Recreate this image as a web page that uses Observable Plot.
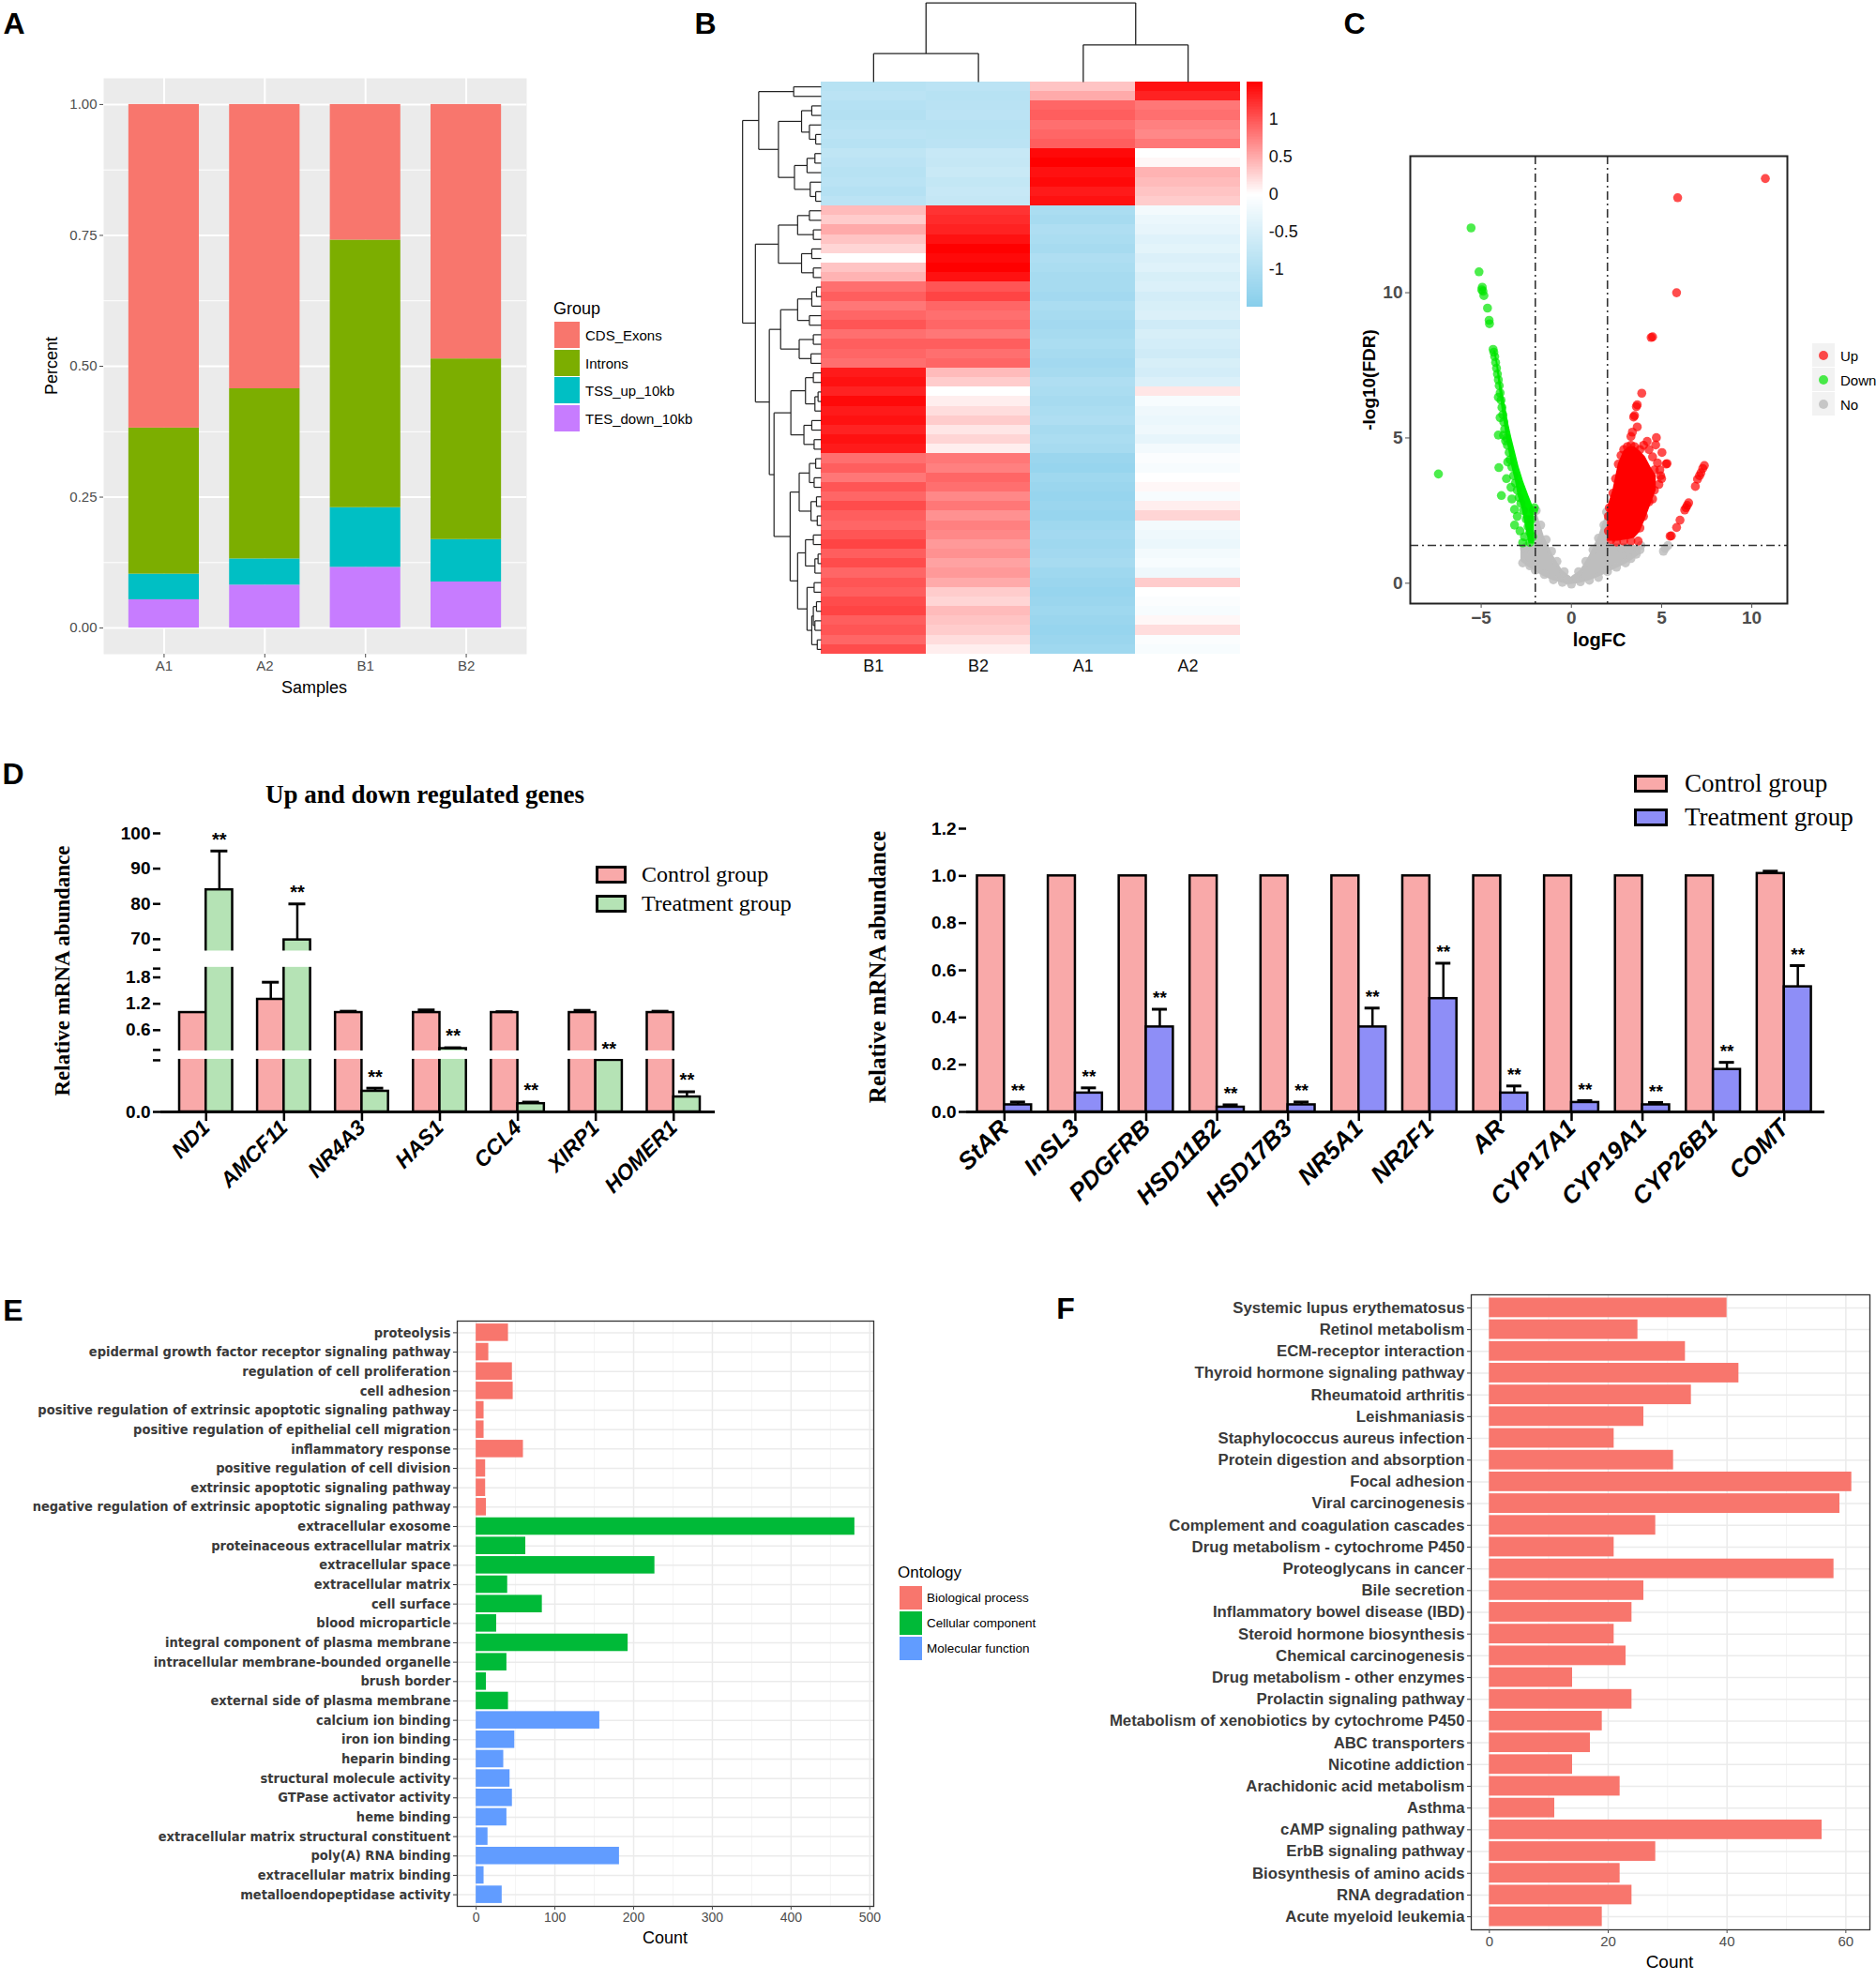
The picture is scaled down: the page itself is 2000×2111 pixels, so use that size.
<!DOCTYPE html>
<html>
<head>
<meta charset="utf-8">
<script src="https://cdn.jsdelivr.net/npm/d3@7"></script>
<script src="https://cdn.jsdelivr.net/npm/@observablehq/plot@0.6"></script>
<style>
html,body{margin:0;padding:0;background:#fff;}
#root{position:relative;width:2000px;height:2111px;overflow:hidden;background:#fff;}
#root svg{position:absolute;}
</style>
</head>
<body>
<div id="root"></div>
<script>
const SANS = '"Liberation Sans", Arial, Helvetica, sans-serif';
const NARROW = '"Liberation Sans Narrow", "Arial Narrow", "DejaVu Sans Condensed", "Liberation Sans", sans-serif';
const SERIF = '"Liberation Serif", "Times New Roman", Times, serif';

// ================= DATA =================
// Panel A
const samplesA = ["A1", "A2", "B1", "B2"];
const regionGroups = ["CDS_Exons", "Introns", "TSS_up_10kb", "TES_down_10kb"];
const cdsExons = [0.618, 0.543, 0.259, 0.486];
const introns = [0.279, 0.325, 0.511, 0.345];
const tssUp10kb = [0.049, 0.050, 0.114, 0.081];
const tesDown10kb = [0.054, 0.082, 0.116, 0.088];
const regionColors = ["#F8766D", "#7CAE00", "#00BFC4", "#C77CFF"];
const percentTicks = [0, 0.25, 0.5, 0.75, 1];
const percentMinor = [0.125, 0.375, 0.625, 0.875];

// Panel B (heatmap, 60 row bands, columns B1 B2 A1 A2)
const heatCols = ["B1", "B2", "A1", "A2"];
const heatB1 = [-0.9,-0.85,-0.92,-0.95,-0.9,-0.85,-0.9,-0.8,-0.85,-0.9,-0.86,-0.92,-0.85,
  0.4,0.3,0.5,0.35,0.25,0.0,0.35,0.45,
  0.85,0.95,0.8,0.9,1.0,0.85,0.95,0.9,0.85,
  1.35,1.4,1.3,1.45,1.35,1.4,1.3,1.4,1.35,
  0.85,0.95,0.8,1.0,0.9,1.05,0.95,0.9,1.0,1.1,0.95,1.05,0.9,1.0,0.95,1.05,1.1,0.95,1.0,0.9,1.05];
const heatB2 = [-0.85,-0.9,-0.88,-0.85,-0.9,-0.87,-0.85,
  -0.7,-0.72,-0.68,-0.75,-0.7,-0.72,
  1.2,1.25,1.3,1.4,1.5,1.45,1.5,1.4,
  1.0,1.1,0.9,0.85,0.9,0.8,0.95,0.85,0.9,
  0.4,0.3,
  0.0,0.1,0.2,0.3,0.15,0.25,0.1,
  0.8,0.75,0.9,0.85,0.7,0.8,0.65,0.75,0.7,0.6,0.65,0.55,0.6,0.5,
  0.3,0.25,0.4,0.35,0.3,0.2,0.1];
const heatA1 = [0.35,0.5,
  0.9,0.95,0.85,0.9,0.95,
  1.45,1.5,1.4,1.45,1.35,1.4,
  -1.05,-1.1,-1.0,-1.05,-1.1,-1.0,-1.05,-1.1,
  -1.1,-1.15,-1.05,-1.1,-1.15,-1.1,-1.05,-1.1,-1.15,
  -1.1,-1.0,-1.05,-1.1,-1.05,-1.0,-1.1,-1.05,-1.1,
  -1.25,-1.3,-1.2,-1.25,-1.3,-1.25,-1.3,-1.2,-1.15,-1.2,-1.15,-1.1,-1.2,-1.25,-1.3,-1.25,-1.2,-1.25,-1.3,-1.25,-1.2];
const heatA2 = [1.4,1.3,
  0.8,0.85,0.75,0.7,0.8,
  0.0,0.05,
  0.45,0.4,0.35,0.3,
  -0.15,-0.25,-0.3,-0.4,-0.35,-0.45,-0.4,-0.5,-0.45,-0.55,-0.5,-0.45,-0.6,-0.5,-0.55,-0.6,-0.5,-0.55,-0.45,
  0.15,-0.1,-0.2,-0.25,-0.2,-0.3,-0.15,-0.05,-0.1,0.0,0.05,-0.1,0.1,0.25,-0.15,-0.2,-0.25,-0.15,-0.1,-0.2,0.3,0.0,-0.05,-0.1,0.05,0.2,-0.05,-0.1];
const heatTicks = [1, 0.5, 0, -0.5, -1];
const colTree = [1.0, [0.36, 0, 1], [0.47, 2, 3]];
const rowTree = [1.0,
  [0.795,
    [0.35, 0, 1],
    [0.544,
      [0.25, [0.12, 2, 3], [0.15, 4, [0.07, 5, 6]]],
      [0.34, [0.18, [0.08, 7, 8], 9], [0.14, 10, [0.07, 11, 12]]]]],
  [0.837,
    [0.544, [0.3, [0.15, 13, 14], [0.1, 15, 16]], [0.25, [0.12, 17, 18], [0.1, 19, 20]]],
    [0.66,
      [0.516, [0.3, [0.12, [0.06, 21, 22], 23], [0.15, 24, 25]], [0.28, [0.1, 26, 27], [0.13, 28, 29]]],
      [0.6,
        [0.386, [0.2, [0.1, 30, 31], [0.08, [0.04, 32, 33], 34]], [0.22, [0.12, 35, 36], [0.09, 37, 38]]],
        [0.395,
          [0.28, [0.15, [0.07, 39, 40], [0.09, 41, 42]], [0.13, [0.06, 43, 44], [0.05, 45, 46]]],
          [0.3, [0.2, [0.1, 47, 48], [0.08, [0.04, 49, 50], 51]],
                [0.18, [0.09, 52, 53], [0.12, [0.1, [0.06, 54, 55], [0.08, 56, 57]], [0.05, 58, 59]]]]]]]]];

// Panel C (volcano)
const fcCut = [-2, 2];
const fdrCut = [1.3];
const upPoints = [[10.75,13.93],[5.89,13.27],[5.83,10.0],[4.42,8.46],[4.5,8.48],[3.9,6.54],[3.65,6.14],[3.6,6.08],[3.5,5.77],[3.45,5.72],[3.65,5.38],[3.38,5.2],[3.3,5.05],[4.71,5.01],[4.2,4.88],[4.67,4.76],[5.02,4.5],[5.25,4.1],[5.3,4.12],[4.77,4.14],[4.9,3.9],[5.0,3.6],[4.85,3.4],[4.6,3.2],[4.3,2.8],[4.0,2.3],[3.8,1.9],[3.7,1.45],[3.3,1.45],[2.9,1.45],[2.5,1.42],[2.2,1.5],[2.05,1.8],[2.05,2.3],[2.1,2.6],[2.3,3.1],[2.45,3.6],[2.6,4.1],[2.75,4.4],[2.9,4.6],[3.1,4.7],[3.3,4.75],[3.5,4.7],[3.8,4.6],[4.0,4.75],[4.3,4.6],[4.5,4.35],[4.4,3.6],[4.6,3.9],[4.95,3.7],[4.15,3.3],[4.5,2.9],[3.9,2.6],
  [7.37,4.05],[7.28,3.95],[7.18,3.8],[7.1,3.7],[6.99,3.58],[6.87,3.33],[6.5,2.77],[6.42,2.68],[6.35,2.6],[6.28,2.52],[6.02,2.17],[5.83,1.92],[5.54,1.63],[5.47,1.62]];
const upCoreX = [2.0, 2.3, 2.6, 2.9, 3.2, 3.5, 3.8, 4.1, 4.4, 4.7];
const upCoreLo = [1.45, 1.45, 1.45, 1.48, 1.5, 1.55, 1.75, 2.2, 2.7, 3.2];
const upCoreHi = [2.6, 3.2, 4.1, 4.55, 4.7, 4.7, 4.55, 4.35, 4.0, 3.7];
const downPoints = [[-5.56,12.23],[-5.12,10.72],[-4.94,10.19],[-4.97,10.1],[-4.9,10.05],[-4.85,9.9],[-4.65,9.47],[-4.56,9.05],[-4.54,8.93],[-7.37,3.76],[-4.05,5.1],[-3.76,5.09],[-4.02,3.98],[-3.88,3.02],[-3.53,4.17],[-3.15,2.54],[-3.15,2.0],[-2.7,1.39],[-2.3,1.4],[-2.15,1.6],
  [-4.34,8.05],[-4.3,7.95],[-4.25,7.8],[-4.2,7.6],[-4.15,7.4],[-4.1,7.2],[-4.05,7.0],[-4.0,6.8],[-3.95,6.55],[-3.9,6.3],[-3.85,6.05],[-3.8,5.8],[-3.95,5.7],[-3.75,5.55],[-3.7,5.3],[-3.6,5.0],[-3.55,4.75],[-3.45,4.5],[-3.4,4.25],[-3.3,4.0],[-3.2,3.7],[-3.1,3.45],[-3.0,3.2],[-2.9,2.95],[-2.8,2.75],[-2.65,2.5],[-2.5,2.2],[-2.4,1.95],[-2.3,1.75],[-2.2,2.2],[-2.1,2.5],[-2.05,2.6],[-3.3,2.9],[-3.0,2.3],[-2.85,1.8],[-2.6,1.6],[-3.6,3.6],[-3.35,3.3],[-4.05,6.4],[-3.65,4.9]];
const downCoreY = [1.35, 2.0, 2.6, 3.0, 3.5, 4.0, 4.5, 5.0, 5.5, 6.0, 6.5, 7.0, 7.5, 8.0];
const downCoreLeft = [-2.35, -2.55, -2.75, -2.95, -3.1, -3.3, -3.45, -3.6, -3.72, -3.85, -3.95, -4.05, -4.15, -4.3];
const downCoreRight = [-2.05, -2.05, -2.1, -2.35, -2.65, -2.9, -3.1, -3.3, -3.48, -3.62, -3.78, -3.92, -4.05, -4.2];
const noPoints = [[-2.7,0.7],[-2.6,1.2],[-2.5,1.25],[-2.3,0.6],[-2.0,0.45],[-1.5,0.3],[-1.0,0.12],[-0.5,0.03],[0,-0.03],[0.5,0.05],[1.0,0.1],[1.5,0.2],[2.0,0.4],[2.5,0.55],[3.0,0.7],[3.3,0.85],[3.6,1.0],[3.8,1.15],[3.85,1.3],[5.1,1.1],[5.35,1.3],[5.2,1.2],[-1.95,2.5],[-1.7,2.0],[-1.4,1.5],[-1.1,1.1],[-0.8,0.75],[-0.4,0.4],[0.4,0.4],[0.8,0.75],[1.2,1.15],[1.5,1.55],[1.8,2.0],[1.95,2.45],[-2.2,1.0],[2.8,1.2],[3.2,1.15],[0.2,0.15],[-0.2,0.1]];
const noCoreX = [-2.8, -2.4, -2.05, -2.0, -1.5, -1.0, -0.5, 0, 0.5, 1.0, 1.5, 2.0, 2.05, 2.5, 3.0, 3.5, 3.85];
const noCoreLo = [0.75, 0.55, 0.42, 0.4, 0.22, 0.08, 0.0, -0.05, 0.0, 0.08, 0.2, 0.35, 0.37, 0.5, 0.65, 0.85, 1.0];
const noCoreHi = [1.25, 1.3, 1.3, 2.6, 1.6, 0.95, 0.45, 0.2, 0.45, 0.95, 1.6, 2.5, 1.35, 1.35, 1.35, 1.3, 1.25];

// Panel D left
const leftGenes = ["ND1", "AMCF11", "NR4A3", "HAS1", "CCL4", "XIRP1", "HOMER1"];
const leftCtrl = [1.0, 1.3, 1.0, 1.0, 1.0, 1.0, 1.0];
const leftCtrlErr = [0, 0.39, 0.03, 0.06, 0.02, 0.05, 0.03];
const leftTrt = [84, 69.8, 0.04, 0.18, 0.016, 0.1, 0.029];
const leftTrtErr = [11, 10.2, 0.006, 0.02, 0.003, 0, 0.01];
const leftBreakDomain = [0, 0.1, 0.15, 2.0, 67, 100];
const leftBreakRange = [0, 165, 198, 458, 518, 890];
const leftTickVals = [0, 0.6, 1.2, 1.8, 70, 80, 90, 100];
const leftTickLabels = ["0.0", "0.6", "1.2", "1.8", "70", "80", "90", "100"];
const leftSegments = [[0, 0.1], [0.15, 2.0], [67, 100]];

// Panel D right
const rightGenes = ["StAR", "InSL3", "PDGFRB", "HSD11B2", "HSD17B3", "NR5A1", "NR2F1", "AR", "CYP17A1", "CYP19A1", "CYP26B1", "COMT"];
const rightCtrl = [1, 1, 1, 1, 1, 1, 1, 1, 1, 1, 1, 1.01];
const rightCtrlErr = [0, 0, 0, 0, 0, 0, 0, 0, 0, 0, 0, 0.01];
const rightTrt = [0.03, 0.08, 0.36, 0.02, 0.03, 0.36, 0.48, 0.08, 0.04, 0.03, 0.18, 0.53];
const rightTrtErr = [0.012, 0.022, 0.075, 0.01, 0.012, 0.08, 0.15, 0.03, 0.008, 0.01, 0.03, 0.09];
const rightTicks = [0, 0.2, 0.4, 0.6, 0.8, 1.0, 1.2];

// Panel E
const goTerms = ["proteolysis","epidermal growth factor receptor signaling pathway","regulation of cell proliferation","cell adhesion","positive regulation of extrinsic apoptotic signaling pathway","positive regulation of epithelial cell migration","inflammatory response","positive regulation of cell division","extrinsic apoptotic signaling pathway","negative regulation of extrinsic apoptotic signaling pathway",
  "extracellular exosome","proteinaceous extracellular matrix","extracellular space","extracellular matrix","cell surface","blood microparticle","integral component of plasma membrane","intracellular membrane-bounded organelle","brush border","external side of plasma membrane",
  "calcium ion binding","iron ion binding","heparin binding","structural molecule activity","GTPase activator activity","heme binding","extracellular matrix structural constituent","poly(A) RNA binding","extracellular matrix binding","metalloendopeptidase activity"];
const goCounts = [41,16,46,47,10,10,60,12,12,13, 481,63,227,40,84,26,193,39,13,41, 157,49,35,43,46,39,15,182,10,33];
const goOntology = [...Array(10).fill("Biological process"), ...Array(10).fill("Cellular component"), ...Array(10).fill("Molecular function")];
const ontologies = ["Biological process", "Cellular component", "Molecular function"];
const ontologyColors = ["#F8766D", "#00BA38", "#619CFF"];
const goTicks = [0, 100, 200, 300, 400, 500];
const goMinor = [50, 150, 250, 350, 450];

// Panel F
const keggTerms = ["Systemic lupus erythematosus","Retinol metabolism","ECM-receptor interaction","Thyroid hormone signaling pathway","Rheumatoid arthritis","Leishmaniasis","Staphylococcus aureus infection","Protein digestion and absorption","Focal adhesion","Viral carcinogenesis","Complement and coagulation cascades","Drug metabolism - cytochrome P450","Proteoglycans in cancer","Bile secretion","Inflammatory bowel disease (IBD)","Steroid hormone biosynthesis","Chemical carcinogenesis","Drug metabolism - other enzymes","Prolactin signaling pathway","Metabolism of xenobiotics by cytochrome P450","ABC transporters","Nicotine addiction","Arachidonic acid metabolism","Asthma","cAMP signaling pathway","ErbB signaling pathway","Biosynthesis of amino acids","RNA degradation","Acute myeloid leukemia"];
const keggCounts = [40,25,33,42,34,26,21,31,61,59,28,21,58,26,24,21,23,14,24,19,17,14,22,11,56,28,22,24,19];
const keggTicks = [0, 20, 40, 60];
const keggMinor = [10, 30, 50];

// ================= HELPERS =================
const root = document.getElementById("root");
const baseStyle = {background: "transparent", overflow: "visible", maxWidth: "none", fontFamily: SANS};
function place(svg, left, top) {
  svg.style.position = "absolute"; svg.style.left = left + "px"; svg.style.top = top + "px";
  root.appendChild(svg);
}
function T(text, x, y, o = {}) {
  const d = document.createElement("div");
  d.textContent = text;
  const tx = o.anchor === "start" ? "0" : o.anchor === "end" ? "-100%" : "-50%";
  d.style.cssText = `position:absolute;left:${x}px;top:${y}px;white-space:nowrap;line-height:1;` +
    `font-family:${o.family || SANS};font-size:${o.size || 16}px;font-weight:${o.weight || "normal"};` +
    `font-style:${o.style || "normal"};color:${o.color || "#000"};` +
    `transform:translate(${tx},-50%)${o.rotate ? " rotate(" + o.rotate + "deg)" : ""};`;
  root.appendChild(d);
  return d;
}
function box(x, y, w, h, css) {
  const d = document.createElement("div");
  d.style.cssText = `position:absolute;left:${x}px;top:${y}px;width:${w}px;height:${h}px;box-sizing:border-box;${css}`;
  root.appendChild(d);
  return d;
}

// panel letters
T("A", 15, 25, {size: 32, weight: "bold"});
T("B", 752, 25, {size: 32, weight: "bold"});
T("C", 1444, 25, {size: 32, weight: "bold"});
T("D", 14, 825, {size: 32, weight: "bold"});
T("E", 14, 1397, {size: 32, weight: "bold"});
T("F", 1136, 1395, {size: 32, weight: "bold"});

// ================= PANEL A =================
const aRows = samplesA.flatMap((s, i) => [
  {sample: s, group: "TES_down_10kb", value: tesDown10kb[i]},
  {sample: s, group: "TSS_up_10kb", value: tssUp10kb[i]},
  {sample: s, group: "Introns", value: introns[i]},
  {sample: s, group: "CDS_Exons", value: cdsExons[i]}
]);
place(Plot.plot({
  width: 575, height: 760, marginLeft: 110, marginRight: 14, marginTop: 83, marginBottom: 63,
  style: baseStyle,
  x: {domain: samplesA, paddingInner: 0.3, paddingOuter: 0.25, round: false, label: null},
  y: {domain: [-0.05, 1.05], label: null},
  color: {domain: regionGroups, range: regionColors},
  marks: [
    Plot.frame({fill: "#EBEBEB", stroke: "none"}),
    Plot.ruleY(percentMinor, {stroke: "#fff", strokeWidth: 1}),
    Plot.ruleY(percentTicks, {stroke: "#fff", strokeWidth: 2}),
    Plot.ruleX(samplesA, {stroke: "#fff", strokeWidth: 2}),
    Plot.barY(aRows, {x: "sample", y: "value", fill: "group", order: ["TES_down_10kb", "TSS_up_10kb", "Introns", "CDS_Exons"]}),
    Plot.axisY({ticks: percentTicks, tickFormat: d3.format(".2f"), tickSize: 4, tickPadding: 3, fontSize: 15, color: "#4D4D4D", label: null}),
    Plot.axisX({tickSize: 4, tickPadding: 3, fontSize: 15, color: "#4D4D4D", label: null})
  ]
}), 0, 0);
T("Percent", 55, 390, {size: 18, rotate: -90});
T("Samples", 335, 733, {size: 18});
T("Group", 590, 329, {size: 18, anchor: "start"});
regionGroups.forEach((g, i) => {
  const y = [343, 373, 402, 432][i];
  box(591, y, 27, 28, `background:${regionColors[i]};`);
  T(g, 624, y + 14, {size: 15, anchor: "start"});
});

// ================= PANEL B =================
const heatVals = [heatB1, heatB2, heatA1, heatA2];
const heatCells = heatVals.flatMap((col, c) => col.map((v, r) => ({c, r, v})));
function layoutTree(node, segs, orient) {
  if (typeof node === "number") return {p: node + 0.5, h: 0};
  const [h, ...kids] = node;
  const ch = kids.map(k => layoutTree(k, segs, orient));
  for (const k of ch) segs.push(orient(k.p, k.h, k.p, h));
  const p0 = ch[0].p, p1 = ch[ch.length - 1].p;
  segs.push(orient(p0, h, p1, h));
  return {p: (p0 + p1) / 2, h};
}
const rowSegs = [], colSegs = [];
layoutTree(rowTree, rowSegs, (p1, h1, p2, h2) => ({x1: -h1 * 0.75, y1: p1, x2: -h2 * 0.75, y2: p2}));
layoutTree(colTree, colSegs, (p1, h1, p2, h2) => ({x1: p1, y1: -h1 * 8.3, x2: p2, y2: -h2 * 8.3}));
const cbN = 150, cbH = 23.6;
const cbCells = d3.range(cbN).map(i => ({i, v: 1.5 - (i + 0.5) * 3 / cbN}));
place(Plot.plot({
  width: 620, height: 730, marginLeft: 0, marginRight: 0, marginTop: 0, marginBottom: 0,
  style: baseStyle,
  x: {domain: [-0.85, 4.698], range: [0, 620], axis: null},
  y: {domain: [-8.557, 63.25], range: [0, 730], axis: null},
  color: {type: "linear", domain: [-1.5, 0, 1.5], range: ["#87CEEB", "#FFFFFF", "#FF0000"]},
  marks: [
    Plot.rect(heatCells, {x1: d => d.c, x2: d => d.c + 1, y1: d => d.r, y2: d => d.r + 1, fill: "v", shapeRendering: "crispEdges"}),
    Plot.rect(cbCells, {x1: 4.0626, x2: 4.211, y1: d => d.i * cbH / cbN, y2: d => (d.i + 1) * cbH / cbN, fill: "v", shapeRendering: "crispEdges"}),
    Plot.link(rowSegs, {x1: "x1", y1: "y1", x2: "x2", y2: "y2", stroke: "#222", strokeWidth: 1.2}),
    Plot.link(colSegs, {x1: "x1", y1: "y1", x2: "x2", y2: "y2", stroke: "#222", strokeWidth: 1.3}),
    Plot.text(heatCols, {x: (d, i) => i + 0.5, y: 60, dy: 13, text: d => d, fontSize: 18, fill: "#111"}),
    Plot.text(heatTicks, {x: 4.27, y: v => (1.5 - v) / 3 * cbH, text: d => String(d), textAnchor: "start", fontSize: 18, fill: "#111"})
  ]
}), 780, 0);

// ================= PANEL C =================
const toXY = a => a.map(([x, y]) => ({x, y}));
place(Plot.plot({
  width: 500, height: 603, marginLeft: 83, marginRight: 15, marginTop: 66, marginBottom: 60,
  style: baseStyle,
  x: {domain: [-8.93, 11.97], label: null},
  y: {domain: [-0.7, 14.7], label: null},
  marks: [
    Plot.areaY(noCoreX.map((x, i) => ({x, lo: noCoreLo[i], hi: noCoreHi[i]})), {x: "x", y1: "lo", y2: "hi", fill: "#BEBEBE"}),
    Plot.dot(toXY(noPoints), {x: "x", y: "y", r: 4.8, fill: "#BEBEBE", fillOpacity: 0.85}),
    Plot.areaX(downCoreY.map((y, i) => ({y, l: downCoreLeft[i], r: downCoreRight[i]})), {y: "y", x1: "l", x2: "r", fill: "#00F000"}),
    Plot.dot(toXY(downPoints), {x: "x", y: "y", r: 4.8, fill: "#00E600", fillOpacity: 0.7}),
    Plot.areaY(upCoreX.map((x, i) => ({x, lo: upCoreLo[i], hi: upCoreHi[i]})), {x: "x", y1: "lo", y2: "hi", fill: "#FF0000"}),
    Plot.dot(toXY(upPoints), {x: "x", y: "y", r: 4.8, fill: "#FF0000", fillOpacity: 0.7}),
    Plot.ruleX(fcCut, {stroke: "#333", strokeWidth: 1.6, strokeDasharray: "9,4,2,4"}),
    Plot.ruleY(fdrCut, {stroke: "#333", strokeWidth: 1.6, strokeDasharray: "9,4,2,4"}),
    Plot.frame({stroke: "#222", strokeWidth: 2}),
    Plot.axisX({ticks: [-5, 0, 5, 10], tickSize: 5, tickPadding: 3, fontSize: 19, fontWeight: "bold", color: "#4D4D4D", label: null}),
    Plot.axisY({ticks: [0, 5, 10], tickSize: 5, tickPadding: 3, fontSize: 19, fontWeight: "bold", color: "#4D4D4D", label: null})
  ]
}), 1420, 100);
T("logFC", 1705, 682, {size: 20, weight: "bold"});
T("-log10(FDR)", 1459, 405, {size: 19, weight: "bold", rotate: -90});
[["Up", "rgba(255,0,0,0.7)"], ["Down", "rgba(0,230,0,0.7)"], ["No", "rgba(190,190,190,0.85)"]].forEach(([lab, col], i) => {
  const y = 366 + i * 26;
  box(1932, y, 24, 25, "background:#F2F2F2;");
  box(1939, y + 7.5, 10, 10, `border-radius:50%;background:${col};`);
  T(lab, 1962, y + 13, {size: 15, anchor: "start"});
});

// ================= PANEL D LEFT =================
const brk = d3.scaleLinear().domain(leftBreakDomain).range(leftBreakRange);
const leftRows = leftGenes.map((g, i) => ({gene: g, ctrl: leftCtrl[i], ctrlErr: leftCtrlErr[i], trt: leftTrt[i], trtErr: leftTrtErr[i]}));
const lPadIn = 0.32, lR0 = 191, lR1 = 746;
const lBW = (lR1 - lR0) / (leftGenes.length - lPadIn) * (1 - lPadIn);
const lHalf = lBW / 2, capW = 18;
const leftTickVirt = [...leftTickVals, 0.1, 0.15, 2.0, 67].map(brk);
const leftGaps = [[168, 195], [462, 514]];
const lFrameL = 171, lFrameR = 762;
place(Plot.plot({
  width: 800, height: 520, marginLeft: lFrameL, marginRight: 800 - lFrameR, marginTop: 88, marginBottom: 135,
  style: baseStyle,
  x: {domain: leftGenes, range: [lR0, lR1], paddingInner: lPadIn, paddingOuter: 0, round: false, label: null},
  y: {domain: [0, 890], label: null},
  marks: [
    Plot.barY(leftRows, {x: "gene", y1: 0, y2: d => brk(d.ctrl), fill: "#F9A9A9", stroke: "#000", strokeWidth: 2.5, insetRight: lHalf}),
    Plot.barY(leftRows, {x: "gene", y1: 0, y2: d => brk(d.trt), fill: "#B5E3B5", stroke: "#000", strokeWidth: 2.5, insetLeft: lHalf}),
    Plot.ruleX(leftRows.filter(d => d.ctrlErr > 0), {x: "gene", y1: d => brk(d.ctrl), y2: d => brk(d.ctrl + d.ctrlErr), dx: -lHalf / 2, strokeWidth: 2.5}),
    Plot.tickY(leftRows.filter(d => d.ctrlErr > 0), {x: "gene", y: d => brk(d.ctrl + d.ctrlErr), insetLeft: (lHalf - capW) / 2, insetRight: lHalf + (lHalf - capW) / 2, strokeWidth: 3}),
    Plot.ruleX(leftRows.filter(d => d.trtErr > 0), {x: "gene", y1: d => brk(d.trt), y2: d => brk(d.trt + d.trtErr), dx: lHalf / 2, strokeWidth: 2.5}),
    Plot.tickY(leftRows.filter(d => d.trtErr > 0), {x: "gene", y: d => brk(d.trt + d.trtErr), insetLeft: lHalf + (lHalf - capW) / 2, insetRight: (lHalf - capW) / 2, strokeWidth: 3}),
    Plot.barY(leftGenes.flatMap(g => leftGaps.map(([a, b]) => ({gene: g, a, b}))), {x: "gene", y1: "a", y2: "b", fill: "white", insetLeft: -14, insetRight: -14}),
    Plot.ruleX(leftSegments, {y1: d => brk(d[0]), y2: d => brk(d[1]), dx: lFrameL - (lFrameL + lFrameR) / 2, strokeWidth: 3, stroke: "#000"}),
    Plot.ruleY([0], {strokeWidth: 3, stroke: "#000"}),
    Plot.text(leftRows, {x: "gene", y: d => brk(d.trt + d.trtErr), dx: lHalf / 2, dy: -12, text: () => "**", fontSize: 20, fontWeight: "bold"}),
    Plot.axisY({ticks: leftTickVirt, tickFormat: v => { const i = leftTickVals.findIndex(t => Math.abs(brk(t) - v) < 1e-6); return i >= 0 ? leftTickLabels[i] : ""; },
      tickSize: 8, tickPadding: 3, strokeWidth: 2.5, fontSize: 19, fontWeight: "bold", color: "#000", label: null}),
    Plot.axisX({tickSize: 10, tickPadding: 3, strokeWidth: 2.5, tickRotate: -45, fontSize: 23, fontWeight: "bold", fontStyle: "italic", color: "#000", label: null})
  ]
}), 0, 800);
T("Up and down regulated genes", 453, 847, {size: 27, weight: "bold", family: SERIF});
T("Relative mRNA abundance", 66, 1035, {size: 23, weight: "bold", family: SERIF, rotate: -90});
box(635, 923, 33, 19, "background:#F9A9A9;border:3px solid #000;");
box(635, 954, 33, 19, "background:#B5E3B5;border:3px solid #000;");
T("Control group", 684, 932, {size: 24, family: SERIF, anchor: "start"});
T("Treatment group", 684, 963, {size: 24, family: SERIF, anchor: "start"});

// ================= PANEL D RIGHT =================
const rightRows = rightGenes.map((g, i) => ({gene: g, ctrl: rightCtrl[i], ctrlErr: rightCtrlErr[i], trt: rightTrt[i], trtErr: rightTrtErr[i]}));
const rPadIn = 0.236, rR0 = 1041.5 - 860, rR1 = 1930.6 - 860;
const rBW = (rR1 - rR0) / (rightGenes.length - rPadIn) * (1 - rPadIn);
const rHalf = rBW / 2, rCap = 16;
const rFrameL = 170, rFrameR = 1085;
place(Plot.plot({
  width: 1140, height: 520, marginLeft: rFrameL, marginRight: 1140 - rFrameR, marginTop: 83, marginBottom: 135,
  style: baseStyle,
  x: {domain: rightGenes, range: [rR0, rR1], paddingInner: rPadIn, paddingOuter: 0, round: false, label: null},
  y: {domain: [0, 1.2], label: null},
  marks: [
    Plot.barY(rightRows, {x: "gene", y1: 0, y2: "ctrl", fill: "#F9A9A9", stroke: "#000", strokeWidth: 2.5, insetRight: rHalf}),
    Plot.barY(rightRows, {x: "gene", y1: 0, y2: "trt", fill: "#8E8EF7", stroke: "#000", strokeWidth: 2.5, insetLeft: rHalf}),
    Plot.ruleX(rightRows.filter(d => d.ctrlErr > 0), {x: "gene", y1: "ctrl", y2: d => d.ctrl + d.ctrlErr, dx: -rHalf / 2, strokeWidth: 2.5}),
    Plot.tickY(rightRows.filter(d => d.ctrlErr > 0), {x: "gene", y: d => d.ctrl + d.ctrlErr, insetLeft: (rHalf - rCap) / 2, insetRight: rHalf + (rHalf - rCap) / 2, strokeWidth: 3}),
    Plot.ruleX(rightRows, {x: "gene", y1: "trt", y2: d => d.trt + d.trtErr, dx: rHalf / 2, strokeWidth: 2.5}),
    Plot.tickY(rightRows, {x: "gene", y: d => d.trt + d.trtErr, insetLeft: rHalf + (rHalf - rCap) / 2, insetRight: (rHalf - rCap) / 2, strokeWidth: 3}),
    Plot.ruleX([[0, 1.2]], {y1: d => d[0], y2: d => d[1], dx: rFrameL - (rFrameL + rFrameR) / 2, strokeWidth: 3, stroke: "#000"}),
    Plot.ruleY([0], {strokeWidth: 3, stroke: "#000"}),
    Plot.text(rightRows, {x: "gene", y: d => d.trt + d.trtErr, dx: rHalf / 2, dy: -12, text: () => "**", fontSize: 19, fontWeight: "bold"}),
    Plot.axisY({ticks: rightTicks, tickFormat: d3.format(".1f"), tickSize: 8, tickPadding: 3, strokeWidth: 2.5, fontSize: 19, fontWeight: "bold", color: "#000", label: null}),
    Plot.axisX({tickSize: 10, tickPadding: 3, strokeWidth: 2.5, tickRotate: -45, fontSize: 26, fontWeight: "bold", fontStyle: "italic", color: "#000", label: null})
  ]
}), 860, 800);
T("Relative mRNA abundance", 935, 1031, {size: 25, weight: "bold", family: SERIF, rotate: -90});
box(1742, 826, 36, 19, "background:#F9A9A9;border:3px solid #000;");
box(1742, 862, 36, 19, "background:#8E8EF7;border:3px solid #000;");
T("Control group", 1796, 835, {size: 27, family: SERIF, anchor: "start"});
T("Treatment group", 1796, 871, {size: 27, family: SERIF, anchor: "start"});

// ================= PANEL E =================
const goData = goTerms.map((t, i) => ({term: t, count: goCounts[i], ontology: goOntology[i]}));
place(Plot.plot({
  width: 935, height: 700, marginLeft: 487, marginRight: 4, marginTop: 28, marginBottom: 48,
  style: baseStyle,
  x: {domain: [-24, 505], label: null},
  y: {domain: goTerms, paddingInner: 0.1, paddingOuter: 0.15, round: false, label: null},
  color: {domain: ontologies, range: ontologyColors},
  marks: [
    Plot.ruleX(goMinor, {stroke: "#F4F4F4", strokeWidth: 1}),
    Plot.ruleX(goTicks, {stroke: "#EBEBEB", strokeWidth: 1.5}),
    Plot.ruleY(goTerms, {stroke: "#EBEBEB", strokeWidth: 1.5}),
    Plot.barX(goData, {y: "term", x: "count", fill: "ontology"}),
    Plot.frame({stroke: "#333", strokeWidth: 1.3}),
    Plot.axisY({tickSize: 4, tickPadding: 3, fontSize: 14.5, fontWeight: "bold", fontFamily: NARROW, color: "#3A3A3A", label: null}),
    Plot.axisX({ticks: goTicks, tickSize: 4, tickPadding: 3, fontSize: 14, color: "#4D4D4D", label: null})
  ]
}), 0, 1380);
T("Count", 709, 2066, {size: 18});
T("Ontology", 957, 1676, {size: 17, anchor: "start"});
ontologies.forEach((o, i) => {
  const y = 1691 + i * 27;
  box(959, y, 24, 25, `background:${ontologyColors[i]};`);
  T(o, 988, y + 12.5, {size: 13.5, anchor: "start"});
});

// ================= PANEL F =================
const keggData = keggTerms.map((t, i) => ({term: t, count: keggCounts[i]}));
place(Plot.plot({
  width: 870, height: 740, marginLeft: 438, marginRight: 7, marginTop: 20, marginBottom: 43,
  style: baseStyle,
  x: {domain: [-3.05, 64.05], label: null},
  y: {domain: keggTerms, paddingInner: 0.1, paddingOuter: 0.15, round: false, label: null},
  marks: [
    Plot.ruleX(keggMinor, {stroke: "#F4F4F4", strokeWidth: 1}),
    Plot.ruleX(keggTicks, {stroke: "#EBEBEB", strokeWidth: 1.5}),
    Plot.ruleY(keggTerms, {stroke: "#EBEBEB", strokeWidth: 1.5}),
    Plot.barX(keggData, {y: "term", x: "count", fill: "#F8766D"}),
    Plot.frame({stroke: "#333", strokeWidth: 1.3}),
    Plot.axisY({tickSize: 4, tickPadding: 3, fontSize: 16.8, fontWeight: "bold", color: "#3A3A3A", label: null}),
    Plot.axisX({ticks: keggTicks, tickSize: 4, tickPadding: 3, fontSize: 15, color: "#4D4D4D", label: null})
  ]
}), 1130, 1360);
T("Count", 1780, 2091, {size: 19});
</script>
</body>
</html>
